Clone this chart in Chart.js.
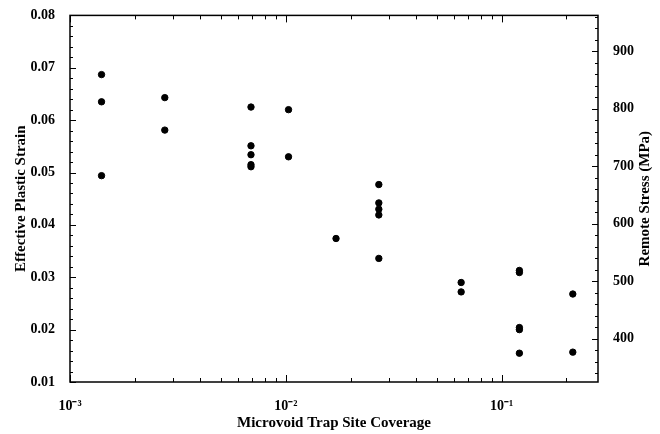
<!DOCTYPE html>
<html>
<head>
<meta charset="utf-8">
<script src="https://cdn.jsdelivr.net/npm/chart.js@4.4.1/dist/chart.umd.min.js"></script>
<style>
    html, body { margin: 0; padding: 0; background: #fff; }
    #wrap { width: 660px; height: 434px; }
</style>
</head>
<body>
<div id="wrap"><canvas id="chart" width="660" height="434"></canvas></div>
<script>
// values
const coverage = [
    0.0014, 0.0014, 0.0014,
    0.00275, 0.00275,
    0.0069, 0.0069, 0.0069, 0.0069, 0.0069,
    0.0103, 0.0103,
    0.0171,
    0.027, 0.027, 0.027, 0.027, 0.027,
    0.065, 0.065,
    0.121, 0.121, 0.121, 0.121, 0.121,
    0.214, 0.214
];
const strain = [
    0.0687, 0.0635, 0.0494,
    0.0643, 0.0581,
    0.0625, 0.0551, 0.0534, 0.0515, 0.0511,
    0.0620, 0.0530,
    0.0374,
    0.0477, 0.0442, 0.0430, 0.0419, 0.0336,
    0.0290, 0.0272,
    0.0313, 0.0309, 0.0204, 0.0200, 0.0155,
    0.0268, 0.0157
];
const xMajorTicks = [0.001, 0.01, 0.1];
const xTickLabels = ['10\u207B\u00B3', '10\u207B\u00B2', '10\u207B\u00B9'];
const strainTicks = [0.01, 0.02, 0.03, 0.04, 0.05, 0.06, 0.07, 0.08];
const stressTicks = [400, 500, 600, 700, 800, 900];
const stressTitle = 'Remote Stress (MPa)';

const FONT = "'Liberation Serif', 'Times New Roman', serif";

// frame + inward tick marks like the original plot, and the right title
// (Chart.js turns a right-hand title the other way round)
const frameTicks = {
    id: 'frameTicks',
    afterDraw(chart) {
        const { ctx, chartArea: a, scales } = chart;
        ctx.save();
        ctx.strokeStyle = '#000';
        ctx.lineWidth = 1.5;
        ctx.strokeRect(a.left, a.top, a.right - a.left, a.bottom - a.top);
        ctx.lineWidth = 1;
        ctx.beginPath();

        // log x ticks, top and bottom
        const xs = scales.x;
        for (let d = -3; d <= -1; d++) {
            for (let m = 1; m <= 9; m++) {
                const v = m * Math.pow(10, d);
                if (v < xs.min || v > xs.max) continue;
                const px = Math.round(xs.getPixelForValue(v)) + 0.5;
                const len = m === 1 ? 7 : 4;
                ctx.moveTo(px, a.bottom); ctx.lineTo(px, a.bottom - len);
                ctx.moveTo(px, a.top); ctx.lineTo(px, a.top + len);
            }
        }

        // left strain ticks, minor every 0.002
        const yl = scales.y;
        for (let i = 0; i <= 35; i++) {
            const v = 0.01 + i * 0.002;
            const py = Math.round(yl.getPixelForValue(v)) + 0.5;
            const len = i % 5 === 0 ? 6 : 3;
            ctx.moveTo(a.left, py); ctx.lineTo(a.left + len, py);
        }

        // right stress ticks, minor every 20
        const yr = scales.y2;
        for (let v = 340; v <= 960; v += 20) {
            const py = Math.round(yr.getPixelForValue(v)) + 0.5;
            const len = v % 100 === 0 ? 6 : 3;
            ctx.moveTo(a.right, py); ctx.lineTo(a.right - len, py);
        }
        ctx.stroke();

        ctx.translate(645, (a.top + a.bottom) / 2);
        ctx.rotate(-Math.PI / 2);
        ctx.fillStyle = '#000';
        ctx.font = 'bold 15px ' + FONT;
        ctx.textAlign = 'center';
        ctx.textBaseline = 'middle';
        ctx.fillText(stressTitle, 0, 0);
        ctx.restore();
    }
};

new Chart(document.getElementById('chart'), {
    type: 'scatter',
    data: {
        datasets: [{
            data: coverage.map((c, i) => ({ x: c, y: strain[i] })),
            backgroundColor: '#000',
            borderColor: '#000',
            pointRadius: 3.2,
            pointHoverRadius: 3.2,
            yAxisID: 'y'
        }]
    },
    options: {
        responsive: false,
        animation: false,
        layout: { padding: { top: 14, left: 0, right: 0, bottom: 0 } },
        plugins: {
            legend: { display: false },
            tooltip: { enabled: false }
        },
        scales: {
            x: {
                type: 'logarithmic',
                position: 'bottom',
                min: 0.001,
                max: 0.28,
                grid: { display: false },
                border: { display: false },
                afterBuildTicks: (s) => { s.ticks = xMajorTicks.map(v => ({ value: v })); },
                afterFit: (s) => { s.height = 52; },
                ticks: {
                    color: '#000',
                    padding: 8,
                    maxRotation: 0,
                    font: { family: FONT, size: 14, weight: 'bold' },
                    callback: (v) => xTickLabels[xMajorTicks.indexOf(v)] ?? ''
                },
                title: {
                    display: true,
                    text: 'Microvoid Trap Site Coverage',
                    color: '#000',
                    padding: { top: 0, bottom: 2 },
                    font: { family: FONT, size: 15, weight: 'bold' }
                }
            },
            y: {
                position: 'left',
                min: 0.01,
                max: 0.08,
                grid: { display: false },
                border: { display: false },
                afterBuildTicks: (s) => { s.ticks = strainTicks.map(v => ({ value: v })); },
                afterFit: (s) => { s.width = 70; },
                ticks: {
                    color: '#000',
                    padding: 7,
                    font: { family: FONT, size: 14, weight: 'bold' },
                    callback: (v) => v.toFixed(2)
                },
                title: {
                    display: true,
                    text: 'Effective Plastic Strain',
                    color: '#000',
                    padding: { top: 12, bottom: 0 },
                    font: { family: FONT, size: 15, weight: 'bold' }
                }
            },
            y2: {
                position: 'right',
                min: 325,
                max: 962,
                grid: { display: false },
                border: { display: false },
                afterBuildTicks: (s) => { s.ticks = stressTicks.map(v => ({ value: v })); },
                afterFit: (s) => { s.width = 62; },
                ticks: {
                    color: '#000',
                    padding: 7,
                    font: { family: FONT, size: 14, weight: 'bold' }
                }
            }
        }
    },
    plugins: [frameTicks]
});
</script>
</body>
</html>
